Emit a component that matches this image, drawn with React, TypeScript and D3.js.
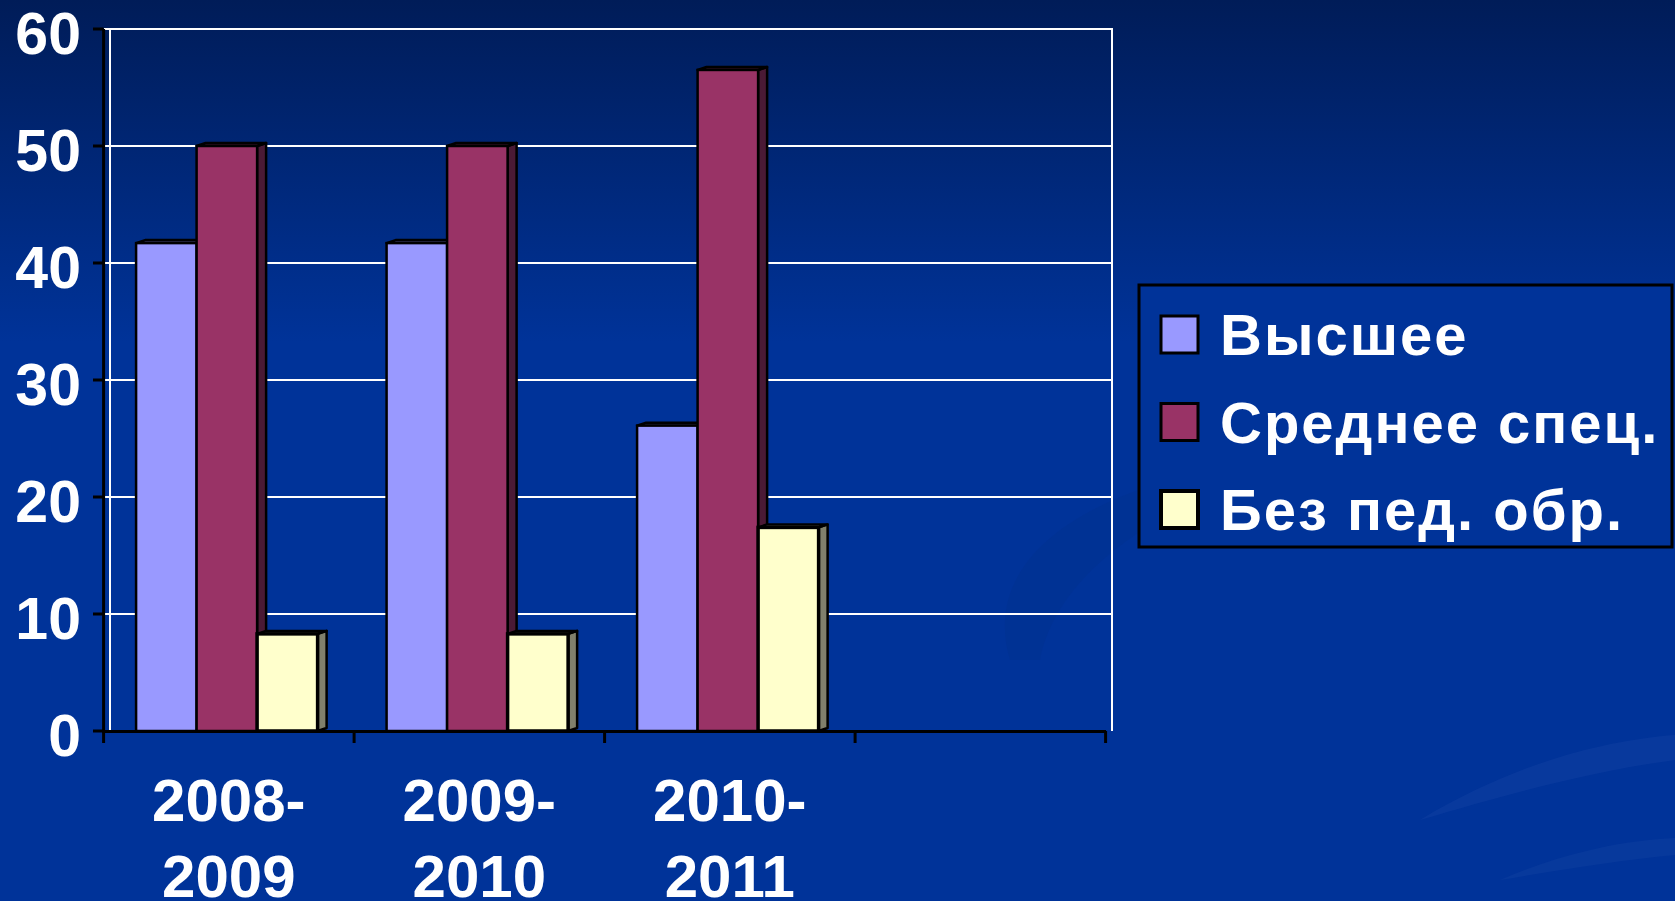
import { useEffect } from 'react';
import * as d3 from 'd3';

const W = 1675;
const H = 901;

// categories (the 4th slot stays empty, like in the original slide)
const categories = ['2008-2009', '2009-2010', '2010-2011', ''];
const seriesNames = ['Высшее', 'Среднее спец.', 'Без пед. обр.'];
const vysshee = [41.7, 41.7, 26.1];
const srednee = [50, 50, 56.5];
const bezPed = [8.3, 8.3, 17.4];
const yTicks = [0, 10, 20, 30, 40, 50, 60];

const seriesValues = [vysshee, srednee, bezPed];
const FRONT = ['#9999ff', '#993366', '#ffffcc'];
const SIDE = ['#4d4d80', '#4a1a35', '#80806c'];

const FONT = '"Liberation Sans", Arial, sans-serif';
const DEPTH_X = 9;
const DEPTH_Y = 3;

export default function App() {
  useEffect(() => {
    document.body.style.margin = '0';
  }, []);

  const x = d3.scaleBand<string>().domain(categories).range([103.6, 1105.6]).padding(0);
  const inner = d3
    .scaleBand<string>()
    .domain(seriesNames)
    .range([0, x.bandwidth()])
    .paddingInner(0)
    .paddingOuter(0.57);
  const y = d3.scaleLinear().domain([0, 60]).range([731, 29]);

  const plotLeft = 104;
  const wallLeft = 110;
  const wallRight = 1112;
  const y0 = y(0);

  const bars = categories
    .filter((c) => c !== '')
    .map((cat, ci) =>
      seriesNames.map((s, si) => {
        const v = seriesValues[si][ci];
        const bx = (x(cat) ?? 0) + (inner(s) ?? 0) - 2;
        return { key: `${cat}-${s}`, bx, bw: inner.bandwidth(), by: y(v), si };
      })
    );

  return (
    <svg width={W} height={H} style={{ display: 'block' }}>
      <defs>
        <linearGradient id="bg" x1="0" y1="0" x2="0" y2="1">
          <stop offset="0%" stopColor="#001c58" />
          <stop offset="38%" stopColor="#003399" />
          <stop offset="100%" stopColor="#003399" />
        </linearGradient>
      </defs>
      <rect x={0} y={0} width={W} height={H} fill="url(#bg)" />
      {/* faint swooshes of the slide template */}
      <path
        d="M 1010 660 C 980 560 1080 480 1300 455 C 1180 500 1060 560 1040 660 Z"
        fill="#00318f"
        opacity={0.5}
      />
      <path
        d="M 1420 820 C 1520 760 1610 740 1675 735 L 1675 760 C 1600 770 1520 790 1420 820 Z"
        fill="#1a4aa8"
        opacity={0.3}
      />
      <path
        d="M 1500 880 C 1570 850 1630 840 1675 838 L 1675 855 C 1620 860 1560 870 1500 880 Z"
        fill="#1a4aa8"
        opacity={0.25}
      />

      {/* back wall gridlines */}
      {yTicks.filter((t) => t > 0).map((t) => (
        <line key={`g${t}`} x1={plotLeft} x2={wallRight} y1={y(t)} y2={y(t)} stroke="#ffffff" strokeWidth={2} />
      ))}
      <line x1={wallLeft} x2={wallLeft} y1={y(60)} y2={y0} stroke="#ffffff" strokeWidth={2} />
      <line x1={wallRight} x2={wallRight} y1={y(60) - 1} y2={y0} stroke="#ffffff" strokeWidth={2} />

      {/* bars with a small 3D depth */}
      {bars.map((group) =>
        group.map((b) => (
          <g key={b.key}>
            <polygon
              points={`${b.bx + b.bw},${b.by} ${b.bx + b.bw + DEPTH_X},${b.by - DEPTH_Y} ${b.bx + b.bw + DEPTH_X},${y0 - DEPTH_Y} ${b.bx + b.bw},${y0}`}
              fill={SIDE[b.si]}
              stroke="#000"
              strokeWidth={2.5}
              strokeLinejoin="round"
            />
            <polygon
              points={`${b.bx},${b.by} ${b.bx + DEPTH_X},${b.by - DEPTH_Y} ${b.bx + b.bw + DEPTH_X},${b.by - DEPTH_Y} ${b.bx + b.bw},${b.by}`}
              fill={SIDE[b.si]}
              stroke="#000"
              strokeWidth={2.5}
              strokeLinejoin="round"
            />
            <rect
              x={b.bx}
              y={b.by}
              width={b.bw}
              height={y0 - b.by}
              fill={FRONT[b.si]}
              stroke="#000"
              strokeWidth={b.si === 2 ? 3.5 : 2.5}
            />
          </g>
        ))
      )}

      {/* axes */}
      <line x1={103.6} x2={103.6} y1={y(60)} y2={y0 + 1} stroke="#000" strokeWidth={3} />
      {yTicks.map((t) => (
        <g key={`t${t}`}>
          <line x1={93} x2={103.6} y1={y(t)} y2={y(t)} stroke="#000" strokeWidth={3} />
          <text
            x={81}
            y={y(t) + 25}
            textAnchor="end"
            fill="#ffffff"
            fontFamily={FONT}
            fontWeight="bold"
            fontSize={59}
          >
            {t}
          </text>
        </g>
      ))}
      <line x1={102} x2={1106} y1={y0 + 0.5} y2={y0 + 0.5} stroke="#000" strokeWidth={3} />
      {[...categories.map((c) => x(c) ?? 0), 1105.6].map((px, i) => (
        <line key={`xt${i}`} x1={px} x2={px} y1={y0} y2={y0 + 12} stroke="#000" strokeWidth={3} />
      ))}
      {categories.filter((c) => c !== '').map((c) => {
        const cx = (x(c) ?? 0) + x.bandwidth() / 2;
        const [a, b] = c.split('-');
        return (
          <text key={`xl${c}`} textAnchor="middle" fill="#ffffff" fontFamily={FONT} fontWeight="bold" fontSize={60}>
            <tspan x={cx} y={821}>{`${a}-`}</tspan>
            <tspan x={cx} y={897}>{b}</tspan>
          </text>
        );
      })}

      {/* legend */}
      <rect x={1139} y={285} width={533} height={262} fill="#003399" stroke="#000" strokeWidth={3} />
      {seriesNames.map((s, i) => {
        const cy = 334 + i * 87.5;
        return (
          <g key={`lg${s}`}>
            <rect x={1161} y={cy - 18} width={37} height={37} fill={FRONT[i]} stroke="#000" strokeWidth={i === 2 ? 4 : 3} />
            <text
              x={1220}
              y={cy + 21}
              fill="#ffffff"
              fontFamily={FONT}
              fontWeight="bold"
              fontSize={58}
              letterSpacing={2}
            >
              {s}
            </text>
          </g>
        );
      })}
    </svg>
  );
}
